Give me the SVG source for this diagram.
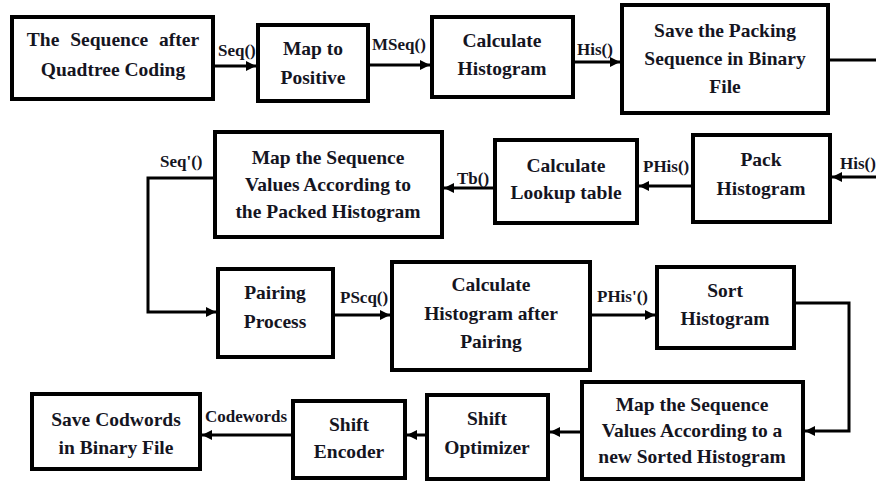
<svg xmlns="http://www.w3.org/2000/svg" width="876" height="482" viewBox="0 0 876 482">
<style>
.box{fill:#fff;stroke:#000;stroke-width:4}
.t{font-size:19.5px;fill:#15151f;text-anchor:middle}
.l{font-size:17px;fill:#15151f}
.c{fill:none;stroke:#000;stroke-width:3}
</style>
<defs>
<marker id="ah" markerUnits="userSpaceOnUse" markerWidth="12" markerHeight="10" refX="10" refY="5" orient="auto">
<path d="M0,0 L10,5 L0,10 Z" fill="#000"/>
</marker>
</defs>
<rect width="876" height="482" fill="#fff"/>
<g font-family="Liberation Serif, Times New Roman, serif" font-weight="bold">
<g id="connectors">
<line class="c" x1="213" y1="66" x2="256" y2="66" marker-end="url(#ah)"/>
<line class="c" x1="368" y1="65" x2="430" y2="65" marker-end="url(#ah)"/>
<line class="c" x1="573" y1="62" x2="620" y2="62" marker-end="url(#ah)"/>
<line class="c" x1="828" y1="60" x2="876" y2="60"/>
<line class="c" x1="876" y1="177" x2="832" y2="177" marker-end="url(#ah)"/>
<line class="c" x1="693" y1="186" x2="639" y2="186" marker-end="url(#ah)"/>
<line class="c" x1="495" y1="188" x2="444" y2="188" marker-end="url(#ah)"/>
<polyline class="c" points="215,178 148,178 148,312 216,312" marker-end="url(#ah)"/>
<line class="c" x1="333" y1="315" x2="390" y2="315" marker-end="url(#ah)"/>
<line class="c" x1="590" y1="315" x2="655" y2="315" marker-end="url(#ah)"/>
<polyline class="c" points="794,303 849,303 849,431 805,431" marker-end="url(#ah)"/>
<line class="c" x1="582" y1="432" x2="550" y2="432" marker-end="url(#ah)"/>
<line class="c" x1="427" y1="435" x2="407" y2="435" marker-end="url(#ah)"/>
<line class="c" x1="293" y1="435" x2="202" y2="435" marker-end="url(#ah)"/>
<text class="l" x="218" y="56">Seq()</text>
<text class="l" x="372" y="50">MSeq()</text>
<text class="l" x="577" y="55">His()</text>
<text class="l" x="160" y="167">Seq'()</text>
<text class="l" x="457" y="184">Tb()</text>
<text class="l" x="643" y="172">PHis()</text>
<text class="l" x="840" y="169">His()</text>
<text class="l" x="340" y="303">PScq()</text>
<text class="l" x="597" y="302">PHis'()</text>
<text class="l" x="205" y="422">Codewords</text>
</g>
<g id="n1">
<rect class="box" x="12" y="17" width="201" height="82"/>
<text class="t" x="113" y="46" word-spacing="6">The Sequence after</text>
<text class="t" x="113" y="76">Quadtree Coding</text>
</g>
<g id="n2">
<rect class="box" x="258" y="25" width="110" height="76"/>
<text class="t" x="313" y="55">Map to</text>
<text class="t" x="313" y="84">Positive</text>
</g>
<g id="n3">
<rect class="box" x="432" y="17" width="141" height="80"/>
<text class="t" x="502" y="47">Calculate</text>
<text class="t" x="502" y="75">Histogram</text>
</g>
<g id="n4">
<rect class="box" x="622" y="5" width="206" height="108"/>
<text class="t" x="725" y="37">Save the Packing</text>
<text class="t" x="725" y="65">Sequence in Binary</text>
<text class="t" x="725" y="93">File</text>
</g>
<g id="n5">
<rect class="box" x="693" y="135" width="137" height="87"/>
<text class="t" x="761" y="166">Pack</text>
<text class="t" x="761" y="195">Histogram</text>
</g>
<g id="n6">
<rect class="box" x="495" y="140" width="142" height="83"/>
<text class="t" x="566" y="172">Calculate</text>
<text class="t" x="566" y="199">Lookup table</text>
</g>
<g id="n7">
<rect class="box" x="215" y="132" width="227" height="105"/>
<text class="t" x="328" y="164">Map the Sequence</text>
<text class="t" x="328" y="191">Values According to</text>
<text class="t" x="328" y="218">the Packed Histogram</text>
</g>
<g id="n8">
<rect class="box" x="218" y="269" width="115" height="88"/>
<text class="t" x="275" y="299">Pairing</text>
<text class="t" x="275" y="328">Process</text>
</g>
<g id="n9">
<rect class="box" x="392" y="262" width="198" height="108"/>
<text class="t" x="491" y="291">Calculate</text>
<text class="t" x="491" y="320">Histogram after</text>
<text class="t" x="491" y="348">Pairing</text>
</g>
<g id="n10">
<rect class="box" x="657" y="267" width="137" height="81"/>
<text class="t" x="725" y="297">Sort</text>
<text class="t" x="725" y="325">Histogram</text>
</g>
<g id="n11">
<rect class="box" x="582" y="382" width="221" height="97"/>
<text class="t" x="692" y="411">Map the Sequence</text>
<text class="t" x="692" y="437">Values According to a</text>
<text class="t" x="692" y="463">new Sorted Histogram</text>
</g>
<g id="n12">
<rect class="box" x="427" y="395" width="121" height="84"/>
<text class="t" x="487" y="425">Shift</text>
<text class="t" x="487" y="454">Optimizer</text>
</g>
<g id="n13">
<rect class="box" x="293" y="401" width="112" height="77"/>
<text class="t" x="349" y="431">Shift</text>
<text class="t" x="349" y="458">Encoder</text>
</g>
<g id="n14">
<rect class="box" x="32" y="394" width="168" height="75"/>
<text class="t" x="116" y="426">Save Codwords</text>
<text class="t" x="116" y="454">in Binary File</text>
</g>
</g>
</svg>
